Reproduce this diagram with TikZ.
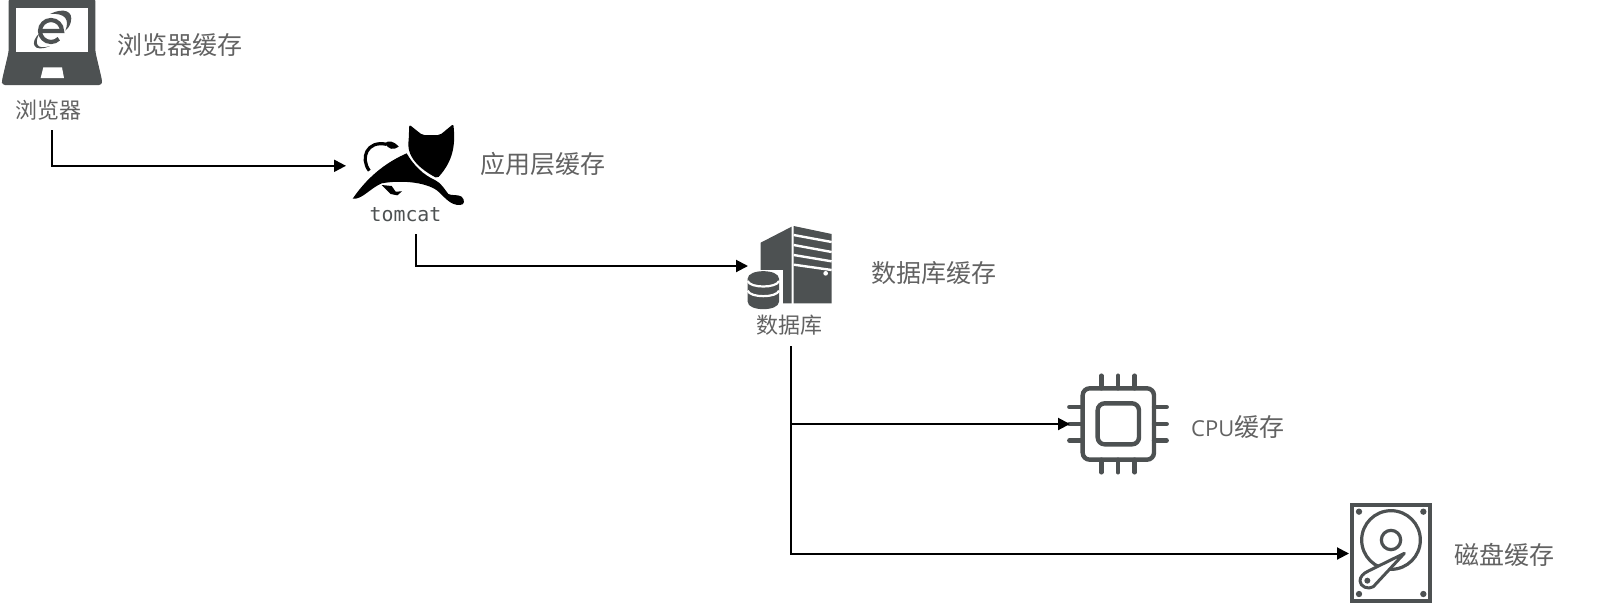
\documentclass[tikz,border=0pt]{standalone}
\usepackage{fontspec}
\setmainfont{Noto Sans CJK SC}
\newfontfamily\tomcatfont{DejaVu Sans Mono}
\newfontfamily\latinfont{Open Sans}
\usetikzlibrary{arrows.meta}
\definecolor{icon}{HTML}{4D5152}
\definecolor{labelc}{HTML}{626262}
\tikzset{
  x=1pt,y=-1pt,
  big/.style={anchor=west,inner sep=0pt,text=labelc,font=\fontsize{25}{28}\selectfont},
  small/.style={anchor=center,inner sep=0pt,text=labelc,font=\fontsize{22}{25}\selectfont},
  mono/.style={anchor=center,inner sep=0pt,text=icon,font=\tomcatfont\fontsize{19.9}{22}\selectfont},
  iconbox/.style={anchor=west,inner sep=0pt,minimum width=90pt,minimum height=80pt},
  conn/.style={draw=black,line width=2pt,-{Triangle[length=12pt,width=12pt]},rounded corners=0pt},
  zoomed/.style={x=0.33333pt,y=-0.33333pt},
  pin/.style={draw=icon,line width=4.4pt,line cap=round},
}
\begin{document}
\begin{tikzpicture}
\useasboundingbox (0,0) rectangle (1603,603);
% laptop
\begin{scope}[shift={(0,0)},zoomed]
  \fill[icon,rounded corners=3pt] (26,-6) -- (286,-6) -- (286,155) -- (306,240) -- (306,255) -- (6,255) -- (6,240) -- (26,155) -- cycle;
  \fill[white] (48,24) rectangle (264,155);
  \fill[white] (130,202) -- (186,202) -- (192,234) -- (122,234) -- cycle;
  \draw[icon,line width=4.2pt] (122,93) -- (186,93) arc[start angle=0,end angle=-315,radius=33];
  \fill[icon] (150,42) .. controls (190,22) and (222,32) .. (212,68) .. controls (208,80) and (202,88) .. (196,92) .. controls (208,62) and (200,38) .. (150,42) -- cycle;
  \fill[icon] (118,100) .. controls (88,128) and (100,160) .. (150,138) .. controls (110,150) and (102,132) .. (118,100) -- cycle;
\end{scope}
\node[small] (browserlabel) at (48,110) {浏览器};
\node[big] (browsertext) at (117,45) {浏览器缓存};
\coordinate (browserout) at (52,130);
% tomcat
\node[iconbox] (tomcaticon) at (346,165.8) {};
\begin{scope}[shift={(350,120)},zoomed]
  \fill[black,rounded corners=2pt] (178,14) -- (217,45) -- (270,45) -- (310,12) .. controls (316,70) and (312,120) .. (262,175) .. controls (225,155) and (170,120) .. (176,60) -- cycle;
  \fill[black] (170,100) .. controls (120,122) and (60,160) .. (8,236) .. controls (35,240) and (60,205) .. (95,190) .. controls (150,180) and (225,185) .. (262,212) .. controls (285,232) and (300,256) .. (330,255) .. controls (345,255) and (345,240) .. (335,230) .. controls (322,222) and (305,228) .. (295,222) .. controls (285,210) and (275,190) .. (255,180) .. controls (220,165) and (190,135) .. (170,100) -- cycle;
  \fill[black] (95,195) -- (125,198) -- (137,215) -- (156,214) -- (142,226) -- (122,222) -- cycle;
  \draw[black,line width=3.2pt] (58,152) .. controls (30,115) and (50,60) .. (110,73);
  \fill[black] (105,70) .. controls (115,60) and (130,62) .. (146,80) .. controls (130,92) and (115,88) .. (105,70) -- cycle;
\end{scope}
\node[mono] (tomcatlabel) at (405.5,215) {tomcat};
\node[big] (tomcattext) at (480,164) {应用层缓存};
\coordinate (tomcatout) at (415.8,234);
% database server
\node[iconbox] (dbicon) at (748,266) {};
\begin{scope}[shift={(740,220)},zoomed]
  \fill[icon] (62,68) -- (155,20) -- (155,250) -- (62,250) -- cycle;
  \fill[icon] (161,18) -- (275,42) -- (275,250) -- (161,250) -- cycle;
  \draw[white,line width=2.4pt] (161,45) -- (275,66) (161,75) -- (275,96) (161,105) -- (275,124) (161,134) -- (275,150);
  \fill[white] (257,160) circle[radius=7];
  \fill[white] (10,150) rectangle (130,270);
  \fill[icon] (23,176) -- (23,245) .. controls (23,275) and (117,275) .. (117,245) -- (117,176) .. controls (117,146) and (23,146) .. (23,176) -- cycle;
  \draw[white,line width=2.2pt] (23,183) .. controls (30,205) and (110,205) .. (117,183);
  \draw[white,line width=2.2pt] (23,212) .. controls (30,234) and (110,234) .. (117,212);
\end{scope}
\node[small] (dblabel) at (789,325.5) {数据库};
\node[big] (dbtext) at (871,273) {数据库缓存};
\coordinate (dbout) at (790.7,346);
% cpu
\node[iconbox] (cpuicon) at (1070,424) {};
\begin{scope}[shift={(1060,365)},zoomed]
  \draw[icon,line width=4.4pt,rounded corners=7pt] (68,70) rectangle (282,284);
  \draw[icon,line width=4.4pt,rounded corners=7pt] (113,115) rectangle (237,238);
  \foreach \p in {124,174,224}{
    \draw[pin] (\p,32) -- (\p,70);
    \draw[pin] (\p,284) -- (\p,322);
  }
  \foreach \p in {126,177,227}{
    \draw[pin] (28,\p) -- (68,\p);
    \draw[pin] (282,\p) -- (320,\p);
  }
\end{scope}
\node[big] (cputext) at (1191,427.5) {{\latinfont\fontsize{22}{25}\selectfont CPU}缓存};
% hdd
\node[iconbox] (hddicon) at (1349,553.5) {};
\begin{scope}[shift={(1340,495)},zoomed]
  \draw[icon,line width=4pt] (36,30) rectangle (270,318);
  \foreach \a/\b in {57/50,250/50,57/297,250/297}{
    \fill[icon] (\a,\b) circle[radius=9.5];
  }
  \draw[icon,line width=3.2pt] (153,135) circle[radius=88];
  \draw[icon,line width=3.2pt] (153,135) circle[radius=29];
  \draw[icon,line width=3pt,fill=white,line join=round] (193,175) -- (100,275) .. controls (85,285) and (60,275) .. (60,258) .. controls (60,245) and (70,235) .. (85,228) -- cycle;
  \fill[icon] (82,257) circle[radius=9];
\end{scope}
\node[big] (hddtext) at (1454,555) {磁盘缓存};
% connectors
\draw[conn] (browserout) |- (tomcaticon.west);
\draw[conn] (tomcatout) |- (dbicon.west);
\draw[conn] (dbout) |- (cpuicon.west);
\draw[conn] (dbout) |- (hddicon.west);
\end{tikzpicture}
\end{document}
